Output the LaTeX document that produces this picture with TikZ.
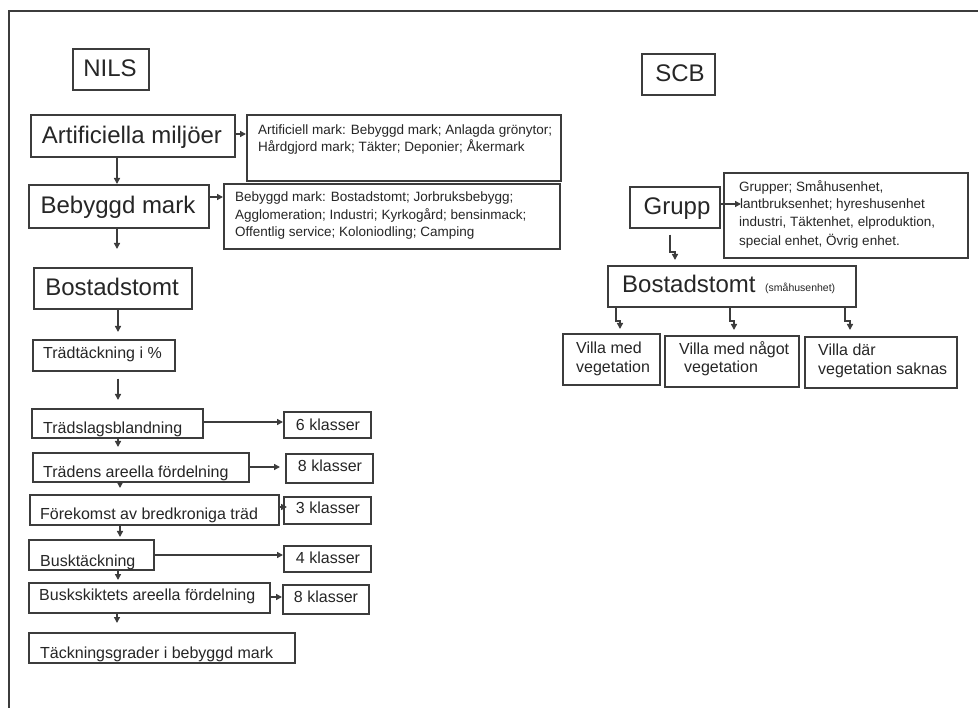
\documentclass[tikz,border=0pt]{standalone}
\usepackage{fontspec}
\setmainfont{Liberation Sans}
\usetikzlibrary{arrows.meta}
\definecolor{ln}{HTML}{3C3C3C}
\definecolor{tx}{HTML}{262626}
\tikzset{
  box/.style={draw=ln, line width=1.7pt, rectangle, inner sep=0pt, anchor=north west},
  arr/.style={draw=ln, line width=1.4pt, -{Triangle[length=6pt,width=6pt]}},
  big/.style={font=\fontsize{24}{28}\selectfont, text=tx, inner sep=0pt},
  mid/.style={font=\fontsize{16}{19}\selectfont, text=tx, inner sep=0pt},
  sml/.style={font=\fontsize{13.5}{17}\selectfont, text=tx, inner sep=0pt},
  tiny/.style={font=\fontsize{10.5}{12}\selectfont, text=tx, inner sep=0pt},
}
\newcommand\bx[5]{\node[box, minimum width={(#4-#2)*1pt}, minimum height={(#5-#3)*1pt}] (#1) at (#2,#3) {};}
\begin{document}
\begin{tikzpicture}[x=1pt,y=-1pt]
\useasboundingbox (0,0) rectangle (978,708);
\fill[white] (0,0) rectangle (978,708);
\draw[draw=ln, line width=1.5pt] (9,708) -- (9,11) -- (978,11);

% ---------- NILS ----------
\bx{nils}{72}{48}{148}{89}
\node[big, anchor=base] (tnils) at (110,77) {NILS};
\bx{art}{30}{114}{234}{156}
\node[big, anchor=base] (tart) at (132,144) {Artificiella miljöer};
\bx{artl}{246}{114}{560}{180}
\node[sml, anchor=base west] (al1) at (258,135) {Artificiell mark: Bebyggd mark; Anlagda grönytor;};
\node[sml, anchor=base west] (al2) at (258,152) {Hårdgjord mark; Täkter; Deponier; Åkermark};
\bx{beb}{28}{184}{208}{227}
\node[big, anchor=base] (tbeb) at (118,214) {Bebyggd mark};
\bx{bebl}{223}{183}{559}{248}
\node[sml, anchor=base west] (bl1) at (235,202) {Bebyggd mark: Bostadstomt; Jorbruksbebygg;};
\node[sml, anchor=base west] (bl2) at (235,220) {Agglomeration; Industri; Kyrkogård; bensinmack;};
\node[sml, anchor=base west] (bl3) at (235,237) {Offentlig service; Koloniodling; Camping};
\bx{bost}{33}{267}{191}{308}
\node[big, anchor=base] (tbost) at (112,296) {Bostadstomt};
\bx{ttk}{32}{339}{174}{370}
\node[mid, anchor=base west] (tttk) at (43,359) {Trädtäckning i \%};
\bx{tsl}{31}{408}{202}{437}
\node[mid, anchor=base west] (ttsl) at (43,434) {Trädslagsblandning};
\bx{k6}{283}{411}{370}{437}
\node[mid, anchor=base] (tk6) at (328,431) {6 klasser};
\bx{tra}{32}{452}{248}{481}
\node[mid, anchor=base west] (ttra) at (43,478) {Trädens areella fördelning};
\bx{k8a}{285}{453}{372}{482}
\node[mid, anchor=base] (tk8a) at (330,472) {8 klasser};
\bx{fore}{29}{494}{278}{524}
\node[mid, anchor=base west] (tfore) at (40,520) {Förekomst av bredkroniga träd};
\bx{k3}{283}{496}{370}{523}
\node[mid, anchor=base] (tk3) at (328,514) {3 klasser};
\bx{busk}{28}{539}{153}{569}
\node[mid, anchor=base west] (tbusk) at (40,566) {Busktäckning};
\bx{k4}{283}{545}{370}{571}
\node[mid, anchor=base] (tk4) at (328,564) {4 klasser};
\bx{bsk}{28}{582}{269}{612}
\node[mid, anchor=base west] (tbsk) at (39,600) {Buskskiktets areella fördelning};
\bx{k8b}{282}{584}{368}{613}
\node[mid, anchor=base] (tk8b) at (326,602) {8 klasser};
\bx{tack}{28}{632}{294}{662}
\node[mid, anchor=base west] (ttack) at (40,658) {Täckningsgrader i bebyggd mark};

% NILS connectors
\draw[arr] (art.east |- 0,134) -- (artl.west |- 0,134);
\draw[arr] (beb.east |- 0,197) -- (bebl.west |- 0,197);
\draw[arr] (art.south -| 117,0) -- (beb.north -| 117,0);
\draw[arr, shorten >=18pt] (beb.south -| 117,0) -- (bost.north -| 117,0);
\draw[arr, shorten >=7pt] (bost.south -| 118,0) -- (ttk.north -| 118,0);
\draw[arr, shorten <=7pt, shorten >=8pt] (ttk.south -| 118,0) -- (tsl.north -| 118,0);
\draw[arr, shorten >=5pt] (tsl.south -| 118,0) -- (tra.north -| 118,0);
\draw[arr, shorten >=6pt] (tra.south -| 120,0) -- (fore.north -| 120,0);
\draw[arr, shorten >=2pt] (fore.south -| 120,0) -- (busk.north -| 120,0);
\draw[arr, shorten >=2pt] (busk.south -| 118,0) -- (bsk.north -| 118,0);
\draw[arr, shorten >=9pt] (bsk.south -| 117,0) -- (tack.north -| 117,0);
\draw[arr] (tsl.east |- 0,422) -- (k6.west |- 0,422);
\draw[arr, shorten >=5pt] (tra.east |- 0,467) -- (k8a.west |- 0,467);
\draw[arr, shorten >=-4pt] (fore.east |- 0,507) -- (k3.west |- 0,507);
\draw[arr] (busk.east |- 0,555) -- (k4.west |- 0,555);
\draw[arr] (bsk.east |- 0,597) -- (k8b.west |- 0,597);

% ---------- SCB ----------
\bx{scb}{641}{53}{714}{94}
\node[big, anchor=base] (tscb) at (680,82) {SCB};
\bx{grupp}{629}{186}{719}{227}
\node[big, anchor=base] (tgrupp) at (677,215) {Grupp};
\bx{grl}{723}{172}{967}{257}
\node[sml, anchor=base west] (gl1) at (739,192) {Grupper; Småhusenhet,};
\node[sml, anchor=base west] (gl2) at (740,209) {lantbruksenhet; hyreshusenhet};
\node[sml, anchor=base west] (gl3) at (739,227) {industri, Täktenhet, elproduktion,};
\node[sml, anchor=base west] (gl4) at (739,246) {special enhet, Övrig enhet.};
\bx{bostr}{607}{265}{855}{306}
\node[big, anchor=base west] (tbostr) at (622,293) {Bostadstomt};
\node[tiny, anchor=base west] (tsmah) at (765,292) {(småhusenhet)};
\bx{v1}{562}{333}{659}{384}
\node[mid, anchor=base west] (v1a) at (576,354) {Villa med};
\node[mid, anchor=base west] (v1b) at (576,373) {vegetation};
\bx{v2}{664}{335}{798}{386}
\node[mid, anchor=base west] (v2a) at (679,355) {Villa med något};
\node[mid, anchor=base west] (v2b) at (684,373) {vegetation};
\bx{v3}{804}{336}{956}{387}
\node[mid, anchor=base west] (v3a) at (818,356) {Villa där};
\node[mid, anchor=base west] (v3b) at (818,375) {vegetation saknas};

% SCB connectors
\draw[arr, shorten >=-18pt] (grupp.east |- 0,204) -- (grl.west |- 0,204);
\draw[arr, shorten <=6pt, shorten >=5pt] (grupp.south -| 670,0) |- (675,252) -- (bostr.north -| 675,0);
\draw[arr, shorten >=4pt] (bostr.south -| 616,0) |- (620,321) -- (v1.north -| 620,0);
\draw[arr, shorten >=5pt] (bostr.south -| 730,0) |- (734,321) -- (v2.north -| 734,0);
\draw[arr, shorten >=6pt] (bostr.south -| 845,0) |- (850,321) -- (v3.north -| 850,0);
\end{tikzpicture}
\end{document}
